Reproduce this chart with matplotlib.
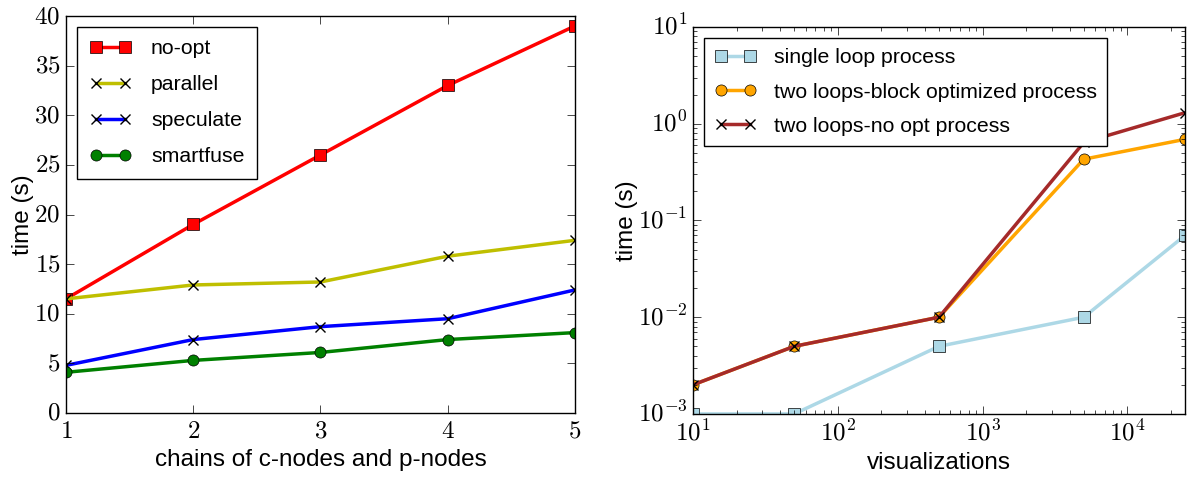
import numpy as np
import matplotlib
matplotlib.use("Agg")
import matplotlib.pyplot as plt
from matplotlib.ticker import FuncFormatter, LogLocator

plt.style.use("classic")
plt.rcParams["font.family"] = ["Liberation Sans", "DejaVu Sans"]
plt.rcParams["mathtext.fontset"] = "cm"

# left panel
chains = [1, 2, 3, 4, 5]
no_opt = [11.5, 19, 26, 33, 39]
parallel = [11.5, 12.9, 13.2, 15.8, 17.4]
speculate = [4.8, 7.4, 8.7, 9.5, 12.4]
smartfuse = [4.1, 5.3, 6.1, 7.4, 8.1]

# right panel
visualizations = [10, 50, 500, 5000, 25000]
single_loop = [0.001, 0.001, 0.005, 0.01, 0.07]
two_loops_block = [0.002, 0.005, 0.01, 0.43, 0.69]
two_loops_noopt = [0.002, 0.005, 0.01, 0.64, 1.3]

fig = plt.figure(figsize=(11.87, 4.78), dpi=100, facecolor="white")
ax1 = fig.add_axes([0.0556, 0.136, 0.4288, 0.8305])
ax2 = fig.add_axes([0.5838, 0.134, 0.4145, 0.8095])

lw = 2.5
ax1.plot(chains, no_opt, color="red", marker="s", ms=8, lw=lw, label="no-opt")
ax1.plot(chains, parallel, color="y", marker="x", ms=6.5, mew=1, mec="black", lw=lw, label="parallel")
ax1.plot(chains, speculate, color="blue", marker="x", ms=6.5, mew=1, mec="black", lw=lw, label="speculate")
ax1.plot(chains, smartfuse, color="green", marker="o", ms=8, lw=lw, label="smartfuse")
ax1.set_xlim(1, 5)
ax1.set_ylim(0, 40)
ax1.set_xticks(chains)
ax1.set_yticks(range(0, 41, 5))
ax1.set_xlabel("chains of c-nodes and p-nodes", fontsize=17.5)
ax1.set_ylabel("time (s)", fontsize=17.5, labelpad=0)
ax1.xaxis.set_major_formatter(FuncFormatter(lambda v, p: f"${v:g}$"))
ax1.yaxis.set_major_formatter(FuncFormatter(lambda v, p: f"${v:g}$"))
ax1.tick_params(labelsize=18, length=6)
ax1.legend(loc="upper left", fontsize=15.3, fancybox=False, handlelength=2.0,
           handletextpad=0.9, borderpad=0.6, labelspacing=0.8)

ax2.plot(visualizations, single_loop, color="lightblue", marker="s", ms=8, lw=lw,
         label="single loop process")
ax2.plot(visualizations, two_loops_block, color="orange", marker="o", ms=8, lw=lw,
         label="two loops-block optimized process")
ax2.plot(visualizations, two_loops_noopt, color="brown", marker="x", ms=6.5, mew=1, mec="black",
         lw=lw, label="two loops-no opt process")
ax2.set_xscale("log")
ax2.set_yscale("log")
ax2.set_xlim(10, 25000)
ax2.set_ylim(1e-3, 10)
ax2.xaxis.set_major_locator(LogLocator(base=10))
ax2.yaxis.set_major_locator(LogLocator(base=10))
fmt = FuncFormatter(lambda v, p: f"$10^{{{int(round(np.log10(v)))}}}$")
ax2.xaxis.set_major_formatter(fmt)
ax2.yaxis.set_major_formatter(fmt)
ax2.set_xlabel("visualizations", fontsize=17.5)
ax2.set_ylabel("time (s)", fontsize=17.5, labelpad=0)
ax2.tick_params(which="major", labelsize=18, length=6)
ax2.tick_params(which="minor", length=3)
ax2.legend(loc="upper left", fontsize=15.3, fancybox=False, handlelength=2.0,
           handletextpad=0.8, borderpad=0.5, labelspacing=0.72)

fig.savefig("out.png", dpi=100, facecolor="white")
